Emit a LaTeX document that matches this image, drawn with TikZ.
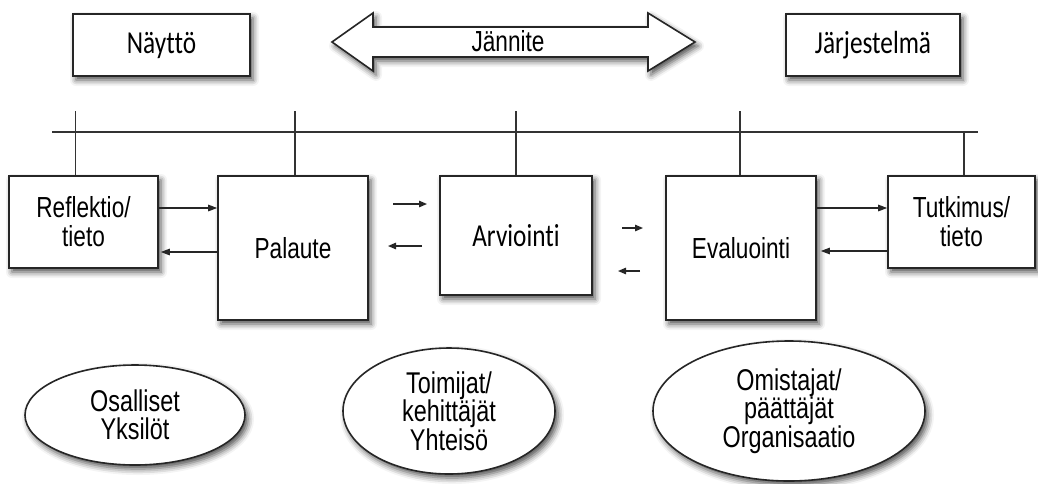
\documentclass[tikz,border=0pt]{standalone}
\usepackage{fontspec}
\setmainfont{Liberation Sans}[FakeStretch=0.78]
\newfontfamily\carlito{Carlito}[FakeStretch=0.79, Ligatures=NoCommon]
\usetikzlibrary{shapes.geometric,arrows.meta,shadows.blur}

\begin{document}
\begin{tikzpicture}[x=1pt,y=-1pt,
  every node/.style={font=\fontsize{29}{29}\selectfont, align=center},
  shad/.style={blur shadow={shadow xshift=3pt,shadow yshift=-4pt,shadow blur radius=6pt,shadow opacity=70}},
  box/.style={draw=black!85, line width=1.6pt, fill=white, shad, inner sep=0pt},
  oval/.style={ellipse, draw=black!85, line width=1.6pt, fill=white, shad, inner sep=0pt,
               font=\fontsize{30}{28.5}\selectfont},
  bus/.style={line width=1.4pt, draw=black!80},
  arr/.style={line width=1.3pt, draw=black!85, -{Triangle[length=9pt,width=6.5pt]}},
  sarr/.style={line width=1.3pt, draw=black!85, -{Triangle[length=8pt,width=6.5pt]}},
  cal/.style={font=\carlito\fontsize{32}{32}\selectfont}
]
\useasboundingbox (0,0) rectangle (1038,483);

% top row
\node[box, cal, minimum width=177pt, minimum height=62pt] (nayt) at (161.5,45) {Näyttö};
\node[box, cal, minimum width=174pt, minimum height=62pt] (jarj) at (873,45) {Järjestelmä};
\draw[line width=1.6pt, draw=black!85, fill=white, shad]
  (332,42) -- (373,13) -- (373,27) -- (648,27) -- (648,13) -- (695,42)
  -- (648,71) -- (648,57) -- (373,57) -- (373,71) -- cycle;
\node (jan) at (508,41) {Jännite};

% bus line
\coordinate (busL) at (52,132);
\coordinate (busR) at (978,132);
\draw[bus] (busL) -- (busR);

% process boxes
\node[box, minimum width=149pt, minimum height=92pt] (refl) at (83.5,222) {Reflektio/\\tieto};
\node[box, minimum width=150pt, minimum height=144pt] (pal) at (293,248) {Palaute};
\node[box, cal, minimum width=152pt, minimum height=119pt] (arv) at (516,235.5) {Arviointi};
\node[box, minimum width=150pt, minimum height=144pt] (eval) at (741,248) {Evaluointi};
\node[box, minimum width=147pt, minimum height=92pt] (tutk) at (961.5,222) {Tutkimus/\\tieto};

% ticks joining the boxes to the bus
\draw[bus] ([xshift=-8pt]refl.north) -- ++(0,-64);
\draw[bus] ([xshift=2pt]pal.north) -- ++(0,-64);
\draw[bus] (arv.north) -- ++(0,-64);
\draw[bus] ([xshift=-1pt]eval.north) -- ++(0,-64);
\draw[bus] ([xshift=2.5pt]tutk.north) -- ++(0,-44);

% exchanges
\draw[arr] ([yshift=14pt]refl.east) -- ([yshift=40pt]pal.west);
\draw[arr] ([yshift=-4pt]pal.west) -- ([xshift=2pt,yshift=-30pt]refl.east);
\draw[arr] ([yshift=40pt]eval.east) -- ([yshift=14pt]tutk.west);
\draw[arr] ([yshift=-29pt]tutk.west) -- ([xshift=4pt,yshift=-3pt]eval.east);

\coordinate (a1s) at (393,204); \coordinate (a1e) at (427,204);
\coordinate (a2s) at (422,246); \coordinate (a2e) at (388,246);
\coordinate (a3s) at (622,228); \coordinate (a3e) at (643,228);
\coordinate (a4s) at (640,271); \coordinate (a4e) at (618,271);
\draw[sarr] (a1s) -- (a1e);
\draw[sarr] (a2s) -- (a2e);
\draw[sarr] (a3s) -- (a3e);
\draw[sarr] (a4s) -- (a4e);

% actors
\node[oval, minimum width=220pt, minimum height=100pt] (osal) at (135,415) {Osalliset\\Yksilöt};
\node[oval, minimum width=212pt, minimum height=126pt] (toim) at (449,411) {Toimijat/\\kehittäjät\\Yhteisö};
\node[oval, minimum width=272pt, minimum height=140pt] (omis) at (789,411) {Omistajat/\\päättäjät\\Organisaatio};
\end{tikzpicture}
\end{document}
